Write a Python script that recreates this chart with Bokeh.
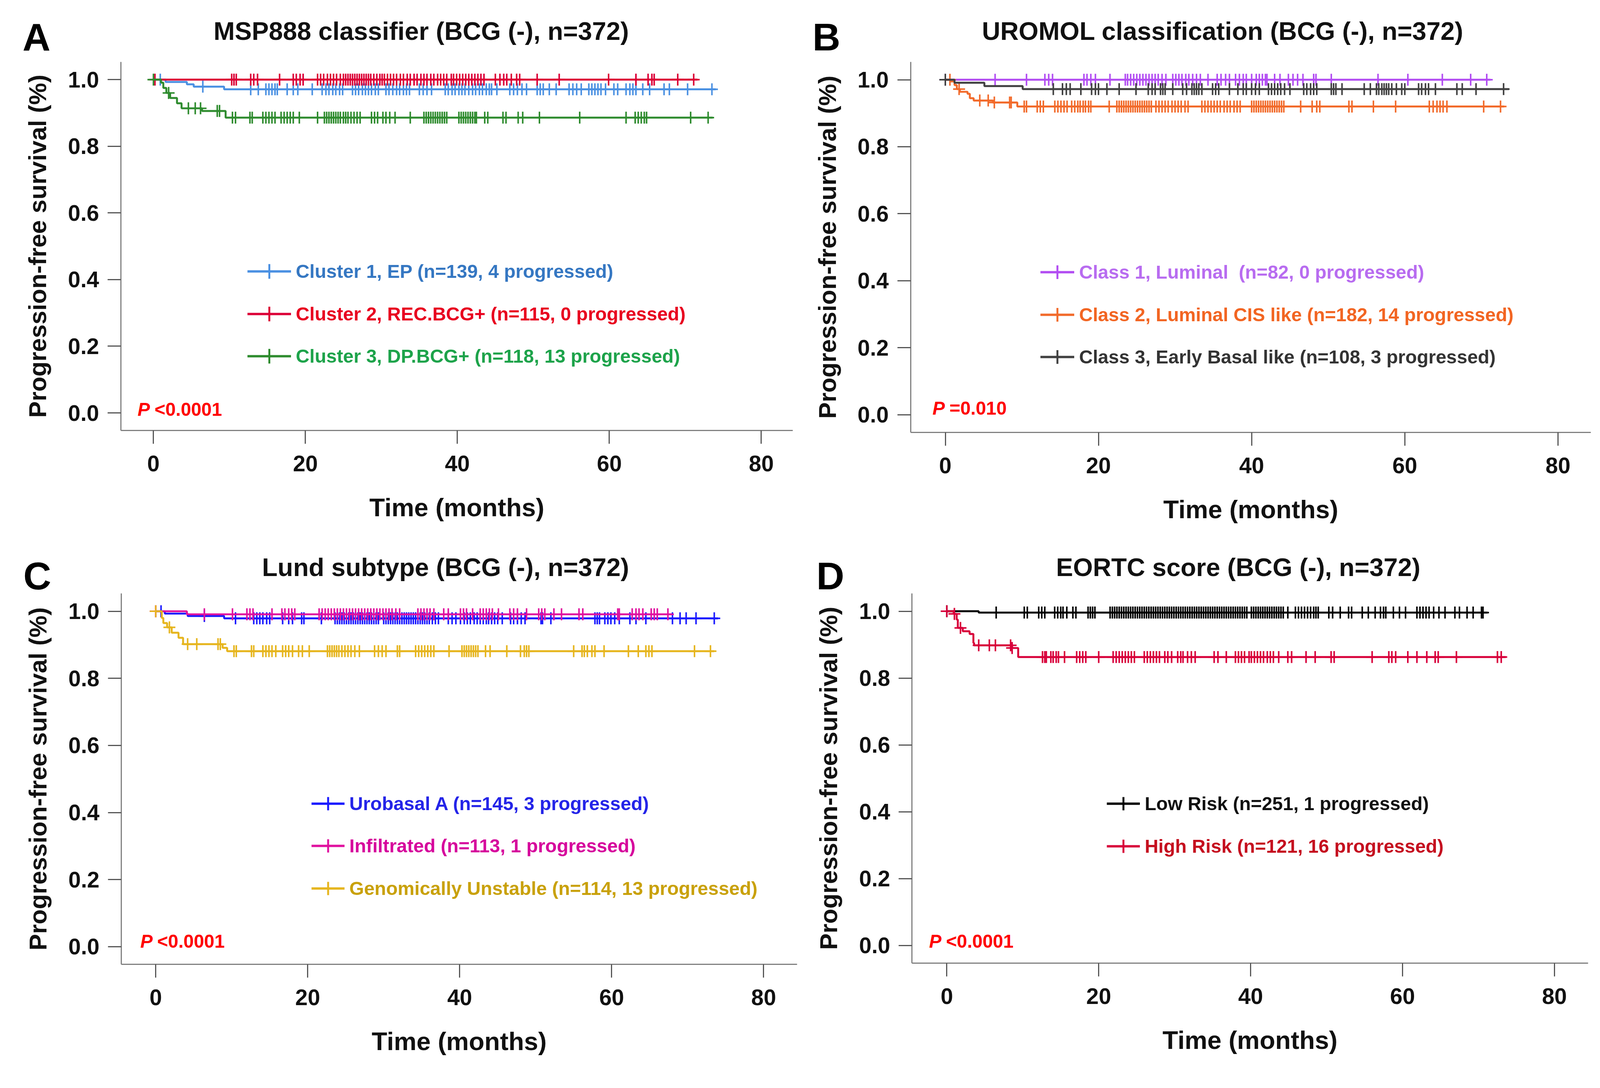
import numpy as np
from bokeh.plotting import figure
from bokeh.models import Label, Legend, LegendItem, FixedTicker, PrintfTickFormatter, Range1d
from bokeh.layouts import row, column
from bokeh.embed import file_html
from bokeh.resources import INLINE

# ---------------- data ----------------
x_ticks = [0, 20, 40, 60, 80]
y_ticks = [0.0, 0.2, 0.4, 0.6, 0.8, 1.0]

# Panel A: MSP888 classifier
a_title = "MSP888 classifier (BCG (-), n=372)"
a_p = "<0.0001"
a1_label = "Cluster 1, EP (n=139, 4 progressed)"
a1_t = [0, 1.6, 4.4, 5.3, 9.3]
a1_s = [1.0, 0.993, 0.986, 0.979, 0.971]
a1_end = 74.0
a1_cens = [0.9, 6.5, 12.8, 13.8, 14.8, 15.2, 15.6, 16.0, 16.3, 17.6, 18.4, 19.0, 20.9, 22.2, 22.7, 23.1,
           23.6, 24.0, 24.5, 24.9, 26.2, 26.6, 27.0, 27.5, 27.9, 28.3, 28.7, 29.2, 29.6, 30.6, 31.0, 31.5,
           32.0, 32.4, 32.9, 33.3, 33.7, 35.0, 35.5, 36.0, 36.6, 38.4, 38.8, 39.3, 39.7, 40.2, 40.6, 41.0,
           41.5, 42.0, 42.4, 42.9, 43.3, 43.8, 44.2, 44.5, 45.2, 46.9, 47.4, 47.9, 48.5, 49.1, 50.5, 50.9,
           51.3, 52.1, 53.0, 54.7, 55.2, 55.7, 56.3, 57.3, 57.7, 58.1, 58.5, 58.9, 59.5, 60.6, 61.1, 62.2,
           62.7, 63.1, 63.5, 64.4, 65.3, 67.2, 67.9, 70.3, 73.5]
a2_label = "Cluster 2, REC.BCG+ (n=115, 0 progressed)"
a2_t = [0]
a2_s = [1.0]
a2_end = 71.6
a2_cens = [0.2, 10.3, 10.6, 10.9, 12.8, 13.2, 13.7, 16.6, 18.4, 18.8, 19.3, 19.7, 21.6, 22.0, 22.4, 22.9,
           23.3, 23.7, 24.1, 24.6, 25.0, 25.3, 25.6, 25.9, 26.2, 26.5, 26.8, 27.1, 27.4, 27.7, 28.0, 28.3,
           28.6, 29.0, 29.4, 29.8, 30.1, 30.4, 30.8, 31.2, 31.6, 32.0, 32.5, 32.9, 33.4, 33.8, 34.3, 34.7,
           35.2, 35.6, 36.0, 36.5, 36.9, 37.4, 37.8, 38.2, 38.6, 39.2, 39.5, 39.9, 40.3, 40.7, 41.1, 41.5,
           41.9, 42.3, 42.7, 43.1, 43.5, 45.0, 45.6, 46.1, 46.5, 47.1, 47.8, 48.2, 50.5, 53.4, 59.9, 63.5,
           65.1, 65.6, 65.9, 69.0, 71.1]
a3_label = "Cluster 3, DP.BCG+ (n=118, 13 progressed)"
a3_t = [0, 1.0, 1.3, 1.7, 2.2, 3.1, 3.7, 6.4, 9.5]
a3_s = [1.0, 0.991, 0.975, 0.960, 0.945, 0.929, 0.914, 0.906, 0.886]
a3_end = 73.6
a3_cens = [0.0, 2.0, 4.6, 5.5, 6.2, 8.4, 8.7, 10.4, 10.8, 12.7, 13.0, 14.4, 14.8, 15.2, 15.6, 16.0, 16.8,
           17.2, 17.6, 18.0, 18.4, 19.2, 21.6, 22.5, 22.8, 23.1, 23.4, 23.7, 24.0, 24.3, 24.6, 25.0, 25.3,
           25.6, 26.0, 26.4, 26.8, 27.2, 28.7, 29.1, 29.5, 30.2, 30.6, 31.1, 31.8, 33.8, 35.6, 35.9, 36.2,
           36.5, 36.8, 37.1, 37.4, 37.7, 38.0, 38.3, 38.6, 40.2, 40.5, 40.8, 41.1, 41.4, 41.7, 42.0, 42.3,
           42.5, 43.6, 44.0, 46.0, 46.4, 48.0, 48.6, 50.8, 56.1, 62.2, 63.4, 63.8, 64.2, 64.6, 64.9, 70.7, 73.0]

# Panel B: UROMOL classification
b_title = "UROMOL classification (BCG (-), n=372)"
b_p = "=0.010"
b1_label = "Class 1, Luminal  (n=82, 0 progressed)"
b1_t = [0]
b1_s = [1.0]
b1_end = 71.2
b1_cens = [0.0, 6.5, 10.6, 13.0, 13.5, 14.0, 18.1, 18.5, 19.0, 19.6, 21.5, 23.5, 23.8, 24.2, 24.6, 25.0,
           25.4, 25.8, 26.2, 26.6, 27.0, 27.4, 27.8, 28.3, 28.8, 29.7, 30.1, 30.5, 30.9, 31.4, 31.8, 32.3,
           32.8, 33.3, 34.3, 35.5, 36.0, 36.6, 37.1, 37.9, 38.4, 38.9, 39.3, 40.0, 40.6, 41.0, 41.4, 41.8,
           42.0, 43.0, 43.7, 44.8, 45.4, 46.0, 46.7, 48.1, 48.4, 50.4, 56.5, 60.4, 64.9, 68.6, 70.7]
b2_label = "Class 2, Luminal CIS like (n=182, 14 progressed)"
b2_t = [0, 0.7, 1.2, 1.5, 1.9, 2.9, 3.2, 3.7, 6.2, 9.4]
b2_s = [1.0, 0.995, 0.984, 0.972, 0.964, 0.958, 0.945, 0.938, 0.932, 0.920]
b2_end = 73.0
b2_cens = [0.6, 1.8, 4.5, 5.6, 6.4, 8.4, 8.6, 10.3, 10.6, 12.0, 12.4, 12.8, 14.3, 14.7, 15.1, 15.5, 15.9,
           16.5, 16.9, 17.3, 17.6, 18.0, 18.3, 18.7, 19.0, 21.4, 22.4, 22.7, 23.0, 23.3, 23.6, 23.9, 24.2,
           24.5, 24.8, 25.1, 25.4, 25.7, 26.0, 26.3, 26.6, 26.9, 27.5, 27.9, 28.3, 28.7, 29.1, 29.6, 30.0,
           30.4, 30.8, 31.3, 31.7, 33.5, 33.9, 34.3, 34.7, 35.1, 35.5, 35.9, 36.4, 36.8, 37.2, 37.7, 38.1,
           38.5, 40.0, 40.3, 40.6, 40.9, 41.2, 41.5, 41.8, 42.1, 42.4, 42.7, 43.0, 43.3, 43.6, 43.9, 44.2,
           46.4, 47.9, 48.5, 48.9, 52.7, 53.1, 55.9, 58.8, 63.2, 63.7, 64.2, 64.6, 65.0, 65.5, 70.3, 72.5]
b3_label = "Class 3, Early Basal like (n=108, 3 progressed)"
b3_t = [0, 1.2, 5.1, 10.1]
b3_s = [1.0, 0.991, 0.981, 0.972]
b3_end = 73.6
b3_cens = [0.0, 14.1, 15.3, 15.8, 16.3, 17.7, 19.1, 19.6, 20.0, 21.1, 22.7, 24.9, 26.5, 27.0, 27.4, 28.1,
           28.4, 28.7, 29.7, 31.0, 31.5, 32.2, 32.5, 32.8, 33.1, 33.5, 34.9, 35.3, 35.7, 37.1, 38.2, 38.9,
           39.3, 40.0, 40.5, 41.0, 42.2, 42.6, 43.0, 43.4, 43.8, 44.3, 45.0, 46.8, 47.2, 47.7, 48.1, 48.5,
           50.4, 50.7, 51.0, 51.8, 54.7, 55.5, 56.3, 56.6, 57.0, 57.3, 57.6, 57.9, 58.3, 58.9, 59.6, 60.0,
           61.8, 62.2, 62.7, 63.1, 64.0, 66.8, 67.5, 69.3, 72.9]

# Panel C: Lund subtype
c_title = "Lund subtype (BCG (-), n=372)"
c_p = "<0.0001"
c1_label = "Urobasal A (n=145, 3 progressed)"
c1_t = [0, 1.2, 4.2, 9.0]
c1_s = [1.0, 0.993, 0.986, 0.979]
c1_end = 74.0
c1_cens = [0.7, 6.4, 10.5, 12.9, 13.3, 13.7, 14.1, 14.6, 15.0, 16.7, 17.5, 18.0, 19.2, 19.5, 21.8, 23.6,
           23.9, 24.2, 24.5, 24.8, 25.1, 25.4, 25.7, 26.0, 26.3, 26.6, 26.9, 27.2, 27.5, 27.8, 28.1, 28.4,
           28.7, 29.0, 29.3, 30.0, 30.3, 30.6, 30.9, 31.2, 31.5, 31.8, 32.1, 32.4, 32.7, 33.0, 33.3, 33.6,
           33.9, 34.2, 34.5, 34.8, 35.1, 35.4, 35.7, 36.0, 36.4, 36.8, 37.2, 38.5, 39.0, 39.5, 40.1, 40.6,
           41.0, 41.4, 41.9, 42.3, 42.7, 43.1, 43.5, 43.8, 44.2, 44.6, 45.0, 45.6, 46.7, 47.1, 47.6, 48.1,
           48.6, 50.7, 50.9, 52.0, 57.8, 58.1, 58.4, 59.1, 59.5, 59.9, 60.4, 61.0, 62.4, 63.2, 64.5, 68.0,
           69.0, 69.8, 71.1, 73.5]
c2_label = "Infiltrated (n=113, 1 progressed)"
c2_t = [0, 4.1]
c2_s = [1.0, 0.991]
c2_end = 67.9
c2_cens = [0.0, 6.4, 10.1, 12.0, 12.4, 12.8, 15.3, 16.6, 17.0, 17.5, 17.9, 18.3, 21.5, 21.9, 22.3, 22.7,
           23.1, 23.5, 23.9, 24.3, 24.7, 25.1, 25.5, 25.9, 26.3, 26.7, 27.1, 27.5, 27.9, 28.3, 28.7, 29.1,
           29.5, 29.9, 30.3, 30.7, 31.1, 31.6, 32.1, 34.5, 34.9, 35.3, 35.7, 36.1, 36.6, 37.9, 38.5, 40.1,
           40.5, 40.9, 41.7, 42.7, 43.1, 43.5, 43.9, 44.3, 45.1, 46.6, 47.1, 47.6, 48.8, 50.4, 50.8, 51.2,
           52.4, 53.4, 55.7, 56.2, 60.8, 61.0, 62.7, 63.2, 63.6, 64.1, 65.2, 65.6, 66.0, 67.4]
c3_label = "Genomically Unstable (n=114, 13 progressed)"
c3_t = [0, 0.8, 1.0, 1.5, 2.1, 3.0, 3.6, 8.8, 9.4]
c3_s = [1.0, 0.980, 0.965, 0.952, 0.936, 0.921, 0.902, 0.891, 0.881]
c3_end = 73.5
c3_cens = [0.0, 1.8, 4.2, 5.4, 8.2, 8.5, 10.3, 10.6, 12.6, 12.9, 14.1, 14.5, 14.9, 15.3, 15.8, 16.7, 17.1,
           17.5, 18.0, 18.8, 19.3, 20.2, 22.6, 22.9, 23.2, 23.5, 23.8, 24.1, 24.5, 24.9, 25.3, 25.7, 26.2,
           26.8, 28.8, 29.3, 29.8, 30.3, 31.8, 32.1, 34.2, 34.6, 35.0, 35.4, 35.8, 36.2, 36.6, 38.6, 40.3,
           40.6, 40.9, 41.2, 41.5, 41.8, 42.1, 42.4, 43.4, 44.0, 46.2, 48.0, 48.5, 48.8, 49.1, 55.0, 56.1,
           56.4, 56.8, 57.4, 57.8, 59.0, 62.2, 63.5, 64.5, 64.9, 65.3, 70.9, 73.0]

# Panel D: EORTC score
d_title = "EORTC score (BCG (-), n=372)"
d_p = "<0.0001"
d1_label = "Low Risk (n=251, 1 progressed)"
d1_t = [0, 4.2]
d1_s = [1.0, 0.996]
d1_end = 71.2
d1_cens = [0.0, 6.5, 10.2, 10.6, 12.1, 12.5, 12.9, 14.2, 14.6, 15.0, 15.3, 15.8, 16.6, 17.0, 18.6, 18.9,
           19.2, 19.5, 21.5, 21.8, 22.1, 22.4, 22.7, 23.0, 23.3, 23.6, 23.9, 24.2, 24.5, 24.8, 25.1, 25.4,
           25.7, 26.0, 26.3, 26.6, 26.9, 27.2, 27.5, 27.8, 28.1, 28.4, 28.7, 29.0, 29.3, 29.6, 29.9, 30.2,
           30.5, 30.8, 31.1, 31.4, 31.7, 32.0, 32.3, 32.6, 32.9, 33.2, 33.5, 33.8, 34.1, 34.4, 34.7, 35.0,
           35.3, 35.6, 35.9, 36.2, 36.5, 36.8, 37.1, 37.4, 37.7, 38.0, 38.3, 38.6, 38.9, 39.2, 39.5, 40.1,
           40.4, 40.7, 41.0, 41.3, 41.6, 41.9, 42.2, 42.5, 42.8, 43.1, 43.4, 43.7, 44.0, 44.3, 44.9, 45.9,
           46.3, 46.7, 47.1, 47.5, 47.9, 48.3, 48.6, 48.9, 50.3, 50.8, 51.8, 52.9, 53.3, 54.7, 55.5, 56.4,
           57.1, 57.5, 57.8, 58.8, 59.6, 60.4, 61.9, 62.3, 62.7, 63.1, 63.5, 64.1, 64.8, 65.6, 66.9, 67.5,
           68.5, 69.3, 70.4, 70.6]
d2_label = "High Risk (n=121, 16 progressed)"
d2_t = [0, 0.9, 1.3, 1.45, 2.1, 3.0, 3.5, 3.6, 8.6, 9.4]
d2_s = [1.0, 0.992, 0.975, 0.950, 0.940, 0.932, 0.905, 0.898, 0.890, 0.863]
d2_end = 73.6
d2_cens = [0.0, 1.0, 1.8, 4.2, 5.6, 6.4, 8.4, 8.6, 12.6, 12.9, 13.1, 13.7, 14.0, 14.4, 14.7, 15.5, 17.1,
           17.5, 17.9, 18.3, 20.0, 21.9, 22.3, 22.7, 23.1, 23.5, 23.9, 24.3, 24.7, 26.0, 26.4, 26.8, 27.2,
           27.6, 28.0, 28.7, 29.1, 29.6, 30.4, 30.8, 31.1, 31.7, 32.2, 32.7, 35.2, 35.7, 36.8, 38.0, 38.4,
           38.8, 39.2, 39.8, 40.1, 40.5, 40.9, 41.3, 41.7, 42.2, 42.6, 43.0, 43.7, 44.9, 45.4, 47.3, 48.5,
           50.6, 51.0, 56.0, 58.2, 58.6, 59.1, 60.7, 61.9, 63.2, 64.3, 64.7, 67.1, 72.5, 73.0]

# ---------------- styling / layout ----------------
S = 0.988                  # global pixel scale of the page


def z(v):
    return v * S


def fs(v):
    return f"{v * S:.1f}px"


W, H = round(z(2069)), round(z(1384))   # size of one panel
FONT = "Liberation Sans"
Y_AXIS = (-0.053, 1.053)   # extent of the drawn axes (data units)
GLYPH_H = 95

# geo: pixel box of the axes inside the panel (l, r, t, b = distance from each panel edge)
panels = [
    dict(letter="A", title=a_title, ptext=a_p,
         geo=dict(l=313, r=15, t=160, b=269, xr=(-4.27, 84.15)),
         title_xy=(1091, 80), letter_xy=(58, 96), p_xy=(356, 1060), leg_x=641, leg_w=113,
         leg_rows=[702, 813, 922],
         groups=[(a1_label, a1_t, a1_s, a1_end, a1_cens, "#4a90e2", "#3577c2"),
                 (a2_label, a2_t, a2_s, a2_end, a2_cens, "#dc0036", "#e8001f"),
                 (a3_label, a3_t, a3_s, a3_end, a3_cens, "#2e8b2e", "#1da34a")]),
    dict(letter="B", title=b_title, ptext=b_p,
         geo=dict(l=290, r=16, t=160, b=264, xr=(-4.54, 84.3)),
         title_xy=(1099, 80), letter_xy=(36, 96), p_xy=(347, 1057), leg_x=627, leg_w=88,
         leg_rows=[705, 815, 924],
         groups=[(b1_label, b1_t, b1_s, b1_end, b1_cens, "#b24cf2", "#b86cf0"),
                 (b2_label, b2_t, b2_s, b2_end, b2_cens, "#f26a2a", "#f26522"),
                 (b3_label, b3_t, b3_s, b3_end, b3_cens, "#404040", "#333333")]),
    dict(letter="C", title=c_title, ptext=c_p,
         geo=dict(l=314, r=4, t=153, b=270, xr=(-4.52, 84.4)),
         title_xy=(1154, 85), letter_xy=(60, 108), p_xy=(363, 1054), leg_x=807, leg_w=86,
         leg_rows=[697, 807, 917],
         groups=[(c1_label, c1_t, c1_s, c1_end, c1_cens, "#1a1aff", "#2424e8"),
                 (c2_label, c2_t, c2_s, c2_end, c2_cens, "#e0119f", "#d6049c"),
                 (c3_label, c3_t, c3_s, c3_end, c3_cens, "#e6b51e", "#c9a10a")]),
    dict(letter="D", title=d_title, ptext=d_p,
         geo=dict(l=294, r=23, t=153, b=273, xr=(-4.57, 84.45)),
         title_xy=(1139, 85), letter_xy=(46, 108), p_xy=(338, 1054), leg_x=799, leg_w=86,
         leg_rows=[697, 808],
         groups=[(d1_label, d1_t, d1_s, d1_end, d1_cens, "#000000", "#111111"),
                 (d2_label, d2_t, d2_s, d2_end, d2_cens, "#d8003a", "#c50f1f")]),
]


def full_ranges(geo):
    x0, x1 = geo["xr"]
    y0, y1 = Y_AXIS
    l, r, t, b = z(geo["l"]), z(geo["r"]), z(geo["t"]), z(geo["b"])
    kx = (W - l - r) / (x1 - x0)
    ky = (H - t - b) / (y1 - y0)
    return (x0 - l / kx, x1 + r / kx), (y0 - b / ky, y1 + t / ky), kx, ky


def make_panel(spec):
    geo = spec["geo"]
    (X0, X1), (Y0, Y1), kx, ky = full_ranges(geo)

    def pix(fx, fy):
        return X0 + z(fx) / kx, Y1 - z(fy) / ky

    p = figure(width=W, height=H, output_backend="svg", toolbar_location=None,
               x_range=Range1d(X0, X1), y_range=Range1d(Y0, Y1),
               min_border=0, min_border_left=0, min_border_right=0,
               min_border_top=0, min_border_bottom=0)
    p.outline_line_color = None
    p.xgrid.grid_line_color = None
    p.ygrid.grid_line_color = None

    x0, x1 = geo["xr"]
    y0, y1 = Y_AXIS
    p.xaxis.fixed_location = y0
    p.yaxis.fixed_location = x0
    p.xaxis.bounds = (x0, x1)
    p.yaxis.bounds = (y0, y1)

    for ax in (p.xaxis[0], p.yaxis[0]):
        ax.axis_line_color = "#808080"
        ax.axis_line_width = z(3)
        ax.major_tick_line_color = "#555555"
        ax.major_tick_line_width = z(3)
        ax.major_tick_out = round(z(34))
        ax.major_tick_in = 0
        ax.minor_tick_line_color = None
        ax.major_label_text_font = FONT
        ax.major_label_text_font_style = "bold"
        ax.major_label_text_font_size = fs(58)
        ax.major_label_text_color = "#111111"
        ax.axis_label_text_font = FONT
        ax.axis_label_text_font_style = "bold"
        ax.axis_label_text_color = "#111111"
    p.xaxis.ticker = FixedTicker(ticks=x_ticks)
    p.yaxis.ticker = FixedTicker(ticks=y_ticks)
    p.yaxis.formatter = PrintfTickFormatter(format="%.1f")
    p.xaxis.axis_label = "Time (months)"
    p.yaxis.axis_label = "Progression-free survival (%)"
    p.xaxis.axis_label_text_font_size = fs(66)
    p.yaxis.axis_label_text_font_size = fs(64)
    p.xaxis.major_label_standoff = round(z(30))
    p.yaxis.major_label_standoff = round(z(22))
    p.xaxis.axis_label_standoff = round(z(54))
    p.yaxis.axis_label_standoff = round(z(40))

    for i, (label, t, s, end, cens, lc, tc) in enumerate(spec["groups"]):
        xs = list(t) + [end]
        ys = list(s) + [s[-1]]
        p.step(xs, ys, mode="after", line_color=lc, line_width=z(5))
        c = np.array(cens, dtype=float)
        idx = np.searchsorted(np.array(t, dtype=float), c, side="right") - 1
        cy = np.array(s)[idx]
        p.scatter(c, cy, marker="cross", size=z(31), line_color=lc, line_width=z(4))
        # legend-only glyphs (thicker, as in the original key); NaN point is never drawn in the plot
        lg_line = p.line([np.nan], [np.nan], line_color=lc, line_width=z(6))
        lg_mark = p.scatter([np.nan], [np.nan], marker="cross", line_color=lc, line_width=z(5))
        row_c = spec["leg_rows"][i]
        leg = Legend(items=[LegendItem(label=label, renderers=[lg_line, lg_mark])],
                     location=(z(spec["leg_x"]), H - z(row_c) - z(GLYPH_H) / 2),
                     glyph_width=round(z(spec["leg_w"])), glyph_height=round(z(GLYPH_H)),
                     label_standoff=round(z(12)), padding=0, margin=0, spacing=0,
                     border_line_color=None, background_fill_alpha=0,
                     label_text_font=FONT, label_text_font_style="bold",
                     label_text_font_size=fs(49), label_text_color=tc)
        p.add_layout(leg)

    tx, ty = pix(*spec["title_xy"])
    p.add_layout(Label(x=tx, y=ty, text=spec["title"], text_align="center", text_baseline="middle",
                       text_font=FONT, text_font_style="bold", text_font_size=fs(66), text_color="#111111"))
    lx, ly = pix(*spec["letter_xy"])
    p.add_layout(Label(x=lx, y=ly, text=spec["letter"], text_align="left", text_baseline="middle",
                       text_font=FONT, text_font_style="bold", text_font_size=fs(100), text_color="#000000"))
    px, py = pix(*spec["p_xy"])
    p.add_layout(Label(x=px, y=py, text="P", text_align="left", text_baseline="middle",
                       text_font=FONT, text_font_style="bold italic", text_font_size=fs(48),
                       text_color="#ff0000"))
    qx, qy = pix(spec["p_xy"][0] + 44, spec["p_xy"][1])
    p.add_layout(Label(x=qx, y=qy, text=spec["ptext"], text_align="left", text_baseline="middle",
                       text_font=FONT, text_font_style="bold", text_font_size=fs(48),
                       text_color="#ff0000"))
    return p


figs = [make_panel(sp) for sp in panels]
page = column(row(figs[0], figs[1], spacing=0), row(figs[2], figs[3], spacing=0), spacing=0)
open("out.html", "w").write(file_html(page, INLINE))
